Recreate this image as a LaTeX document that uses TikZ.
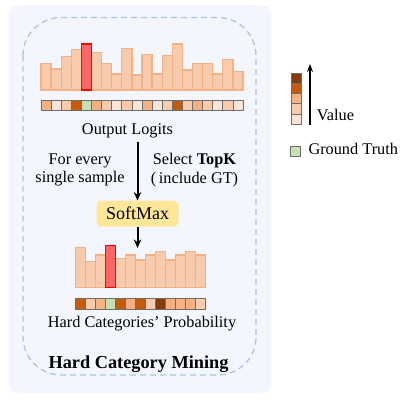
\documentclass[tikz,border=0pt]{standalone}
\usepackage{fontspec}
\setmainfont{Liberation Serif}
\usetikzlibrary{arrows.meta}
\definecolor{bgc}{HTML}{F3F7FD}
\definecolor{dashc}{HTML}{AFC3E8}
\definecolor{c0}{HTML}{FBE5D6}
\definecolor{c1}{HTML}{F8CBAD}
\definecolor{c2}{HTML}{F4B183}
\definecolor{c3}{HTML}{C55A11}
\definecolor{c4}{HTML}{843C0C}
\definecolor{gt}{HTML}{C5E0B4}
\definecolor{barline}{HTML}{F4B183}
\definecolor{redfill}{HTML}{FF6666}
\definecolor{softc}{HTML}{FFE699}
\definecolor{cellline}{HTML}{6E6E6E}
\begin{document}
\begin{tikzpicture}[x=1pt,y=-1pt,
  txt/.style={font=\fontsize{16.3}{18.7}\selectfont, inner sep=0pt},
  bar/.style={fill=c1, draw=barline, line width=1.3pt},
  redbar/.style={fill=redfill, draw=red, line width=1.3pt},
  cell/.style={draw=cellline, line width=0.7pt},
  arr/.style={-{Stealth[length=8.5pt,width=7.5pt]}, line width=2pt},
  thinarr/.style={-{Stealth[length=8pt,width=6pt]}, line width=1.4pt}]
\useasboundingbox (0,0) rectangle (415,400);
% background panels
\fill[bgc, rounded corners=10pt] (8.5,5) rectangle (271.5,393.5);
\draw[dashc, line width=1.3pt, dash pattern=on 6pt off 4pt, rounded corners=38pt] (23,17.5) rectangle (256,375);
% top bars
\foreach \h [count=\i] in {26.7,21,33.3,40.7,46,37.3,26.7,16,41.7,15,35.7,16,34.3,46,20,26.7,26.7,16,30.7,18.3}
  \draw[bar] ({41+10.1*(\i-1)},90) rectangle ++(10.1,-\h);
\draw[redbar] ({41+10.1*4},90) rectangle ++(10.1,-46);
% top strip
\foreach \c [count=\i] in {c2,c0,c1,c3,gt,c2,c1,c0,c1,c0,c2,c0,c1,c3,c1,c2,c1,c0,c1,c0}
  \draw[cell, fill=\c] ({41+10.1*(\i-1)},100) rectangle ++(10.1,10.7);
\node[txt, anchor=base] (logits) at (127.5,134) {Output Logits};
% side labels
\node[txt, align=center] (every) at (80,170) {For every\\single sample};
\node[txt, align=center] (topk) at (194.5,170) {Select \textbf{TopK}\\(\,include GT)};
% softmax
\node[fill=softc, rounded corners=5pt, minimum width=82pt, minimum height=26pt, inner sep=0pt,
      font=\fontsize{18}{20}\selectfont] (soft) at (137.5,213.7) {SoftMax};
\coordinate (a1) at (137.5,141.7);
\coordinate (a2) at (137.5,248);
\draw[arr] (a1) -- (soft.north);
\draw[arr] (soft.south) -- (a2);
% bottom bars
\foreach \h [count=\i] in {40.3,26,32.7,42,29.3,32.7,27.7,32.7,36,27.7,32.7,36,32.7}
  \draw[bar] ({75.7+10*(\i-1)},287.7) rectangle ++(10,-\h);
\draw[redbar] ({75.7+10*3},287.7) rectangle ++(10,-42);
% bottom strip
\foreach \c [count=\i] in {c3,c1,c2,gt,c3,c2,c3,c1,c4,c2,c2,c2,c1}
  \draw[cell, fill=\c] ({75.7+10*(\i-1)},298.5) rectangle ++(10,10.8);
\node[txt, anchor=base] (prob) at (142,327) {Hard Categories’ Probability};
\node[txt, anchor=base, font=\fontsize{18.3}{20}\selectfont\bfseries] (title) at (138.5,368) {Hard Category Mining};
% legend
\foreach \c [count=\i] in {c4,c3,c2,c1,c0}
  \draw[cell, fill=\c] (291.7,{73.3+10.15*(\i-1)}) rectangle ++(10,10.15);
\coordinate (v0) at (310,125);
\coordinate (v1) at (310,64);
\draw[thinarr] (v0) -- (v1);
\node[txt, anchor=base west] (value) at (316.7,120.3) {Value};
\node[cell, fill=gt, minimum width=10pt, minimum height=10pt, inner sep=0pt] (gtbox) at (295.7,151.7) {};
\node[txt, anchor=base west] (gtlabel) at (308.3,154.6) {Ground Truth};
\end{tikzpicture}
\end{document}
